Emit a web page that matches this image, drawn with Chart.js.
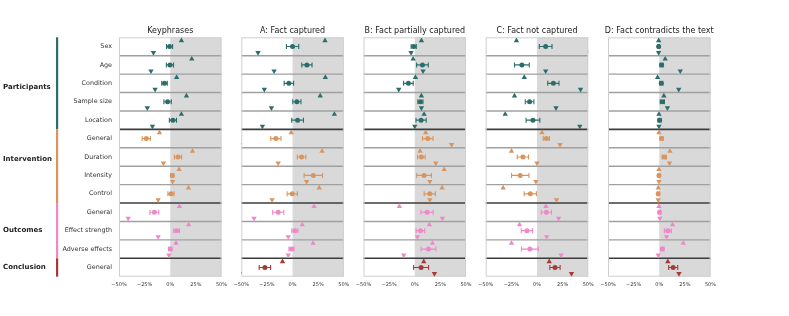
<!DOCTYPE html>
<html><head><meta charset="utf-8">
<script src="https://cdn.jsdelivr.net/npm/chart.js@4/dist/chart.umd.min.js"></script>
<style>
html,body{margin:0;padding:0;background:#fff;}
#wrap{position:relative;width:789px;height:316px;overflow:hidden;}
#wrap canvas{position:absolute;left:0;top:0;}
</style></head><body><div id="wrap"></div>
<script>
// ---- categories ----
const rowLabels = ['Sex','Age','Condition','Sample size','Location','General','Duration','Intensity','Control','General','Effect strength','Adverse effects','General'];
const rowGroup = [0,0,0,0,0,1,1,1,1,2,2,2,3];
const groupNames = ['Participants','Intervention','Outcomes','Conclusion'];
const panelTitles = ['Keyphrases','A: Fact captured','B: Fact partially captured','C: Fact not captured','D: Fact contradicts the text'];
const xTicks = [-50,-25,0,25,50];

// ---- Keyphrases ----
const kpMean = [-0.7,-0.3,-5.6,-2.6,2.6,-23.4,7.6,2,0.7,-15.5,6.2,0,null];
const kpErr  = [3,3.5,2.7,3.6,3.5,4,3.5,1.5,3,4.3,2.8,1.5,null];
const kpUp   = [10.9,21,6.2,15.8,10.9,-10.5,21.7,8.6,17.8,8.9,18,5.6,null];
const kpDown = [-16.4,-18.8,-14.8,-22.4,-17.4,null,-6.6,2.3,-11.8,-41,-11.8,-1.3,null];
// ---- A: Fact captured ----
const aMean = [0,14,-3.6,4.2,4.9,-16.3,8.8,20.3,-0.3,-14,2.3,-1,-27];
const aErr  = [6,5,4.6,4,5.7,5,4.2,9,5,5.4,3,2.5,5.6];
const aUp   = [31.7,null,32,27,40.8,-1.3,28.8,null,26,21,9.5,20,-9.8];
const aDown = [-33.7,-18,-27.5,-20.6,-29.4,-52,-14,13.7,-20,-37.6,-4.2,-4.2,-52];
// ---- B: Fact partially captured ----
const bMean = [-1,7.5,-6.2,5.5,6.2,12.7,6.5,9.1,14.7,12,5.5,13.4,6.2];
const bErr  = [2.5,5.7,4.7,2.5,5,5.2,3.7,7.2,5.5,6,4.2,7.2,7.3];
const bUp   = [6.5,-1.6,0.7,6.5,9.1,10.7,5.2,28.7,26.7,-15,14.3,17.3,8.8];
const bDown = [-3.6,8.1,-15.6,6.5,0,36,20.5,14.7,14.7,27,2.6,-10.7,19.2];
// ---- C: Fact not captured ----
const cMean = [8.5,-14.7,16,-7.2,-3.9,9.2,-13.7,-16.3,-6.5,9.2,-9.8,-6.9,17.6];
const cErr  = [6.2,7.2,5.5,4.2,6.7,3,5.5,8.5,6,5,5.5,8.2,5];
const cUp   = [-20,null,-12.4,-21.9,-31,4.9,-24.8,null,-33,8.8,-17,-24.8,12];
const cDown = [52,8.5,42.5,18.6,41.8,22.5,0,-1,19,21.2,9.5,23.5,33.7];
// ---- D: Fact contradicts the text ----
const dMean = [-0.6,2.3,2,3,0.3,2.3,4.9,-0.3,-1,0.3,8.4,3,13.6];
const dErr  = [0.8,1.5,1.5,2,1.5,1.5,2,1,1,1,3.4,1.5,4.4];
const dUp   = [-0.6,5.8,-1.6,4.5,-0.3,-0.3,10.4,-0.3,-1,-0.3,13,23.4,8.4];
const dDown = [-0.6,20.5,19,8,-0.3,null,10,-0.3,-1,0.6,7.1,-1,19.2];

// ---- styling / layout (not data) ----
const groupColors = ['#2b6e6b','#d9955f','#ef88c8','#a83a36'];
const groupLabelRow = [2.7, 6.6, 10.5, 12.5];
const PANEL_LEFT = [119, 241.3, 363.5, 485.7, 608];
const PANEL_W = 102.5;
const TOP = 37.3, BOTTOM = 276.7, W = 789, H = 316, XAXIS_H = 18;
const FONT = '"DejaVu Sans", sans-serif';

const panels = [
  {mean: kpMean, err: kpErr, up: kpUp, down: kpDown},
  {mean: aMean, err: aErr, up: aUp, down: aDown},
  {mean: bMean, err: bErr, up: bUp, down: bDown},
  {mean: cMean, err: cErr, up: cUp, down: cDown},
  {mean: dMean, err: dErr, up: dUp, down: dDown}
];

const rowColors = rowGroup.map(g => groupColors[g]);

const decor = {
  id: 'decor',
  beforeDatasetsDraw(chart, args, opts) {
    const {ctx, chartArea: a, scales: {x, y}} = chart;
    ctx.save();
    const x0 = x.getPixelForValue(0);
    ctx.fillStyle = '#d9d9d9';
    ctx.fillRect(x0, a.top, a.right - x0, a.bottom - a.top);
    for (let i = 1; i < rowLabels.length; i++) {
      const yy = y.getPixelForValue(i);
      const dark = rowGroup[i] !== rowGroup[i - 1];
      ctx.strokeStyle = dark ? '#3c3c3c' : '#a0a0a0';
      ctx.lineWidth = dark ? 1.6 : 1.4;
      ctx.beginPath(); ctx.moveTo(a.left, yy); ctx.lineTo(a.right, yy); ctx.stroke();
    }
    ctx.strokeStyle = '#cfcfcf'; ctx.lineWidth = 1;
    ctx.strokeRect(a.left + 0.5, a.top + 0.5, a.right - a.left - 1, a.bottom - a.top - 1);
    ctx.fillStyle = '#222';
    ctx.font = '8px ' + FONT;
    ctx.textAlign = 'center'; ctx.textBaseline = 'middle';
    ctx.fillText(opts.title, (a.left + a.right) / 2, a.top - 6.3);
    ctx.restore();
  }
};

const leftLabels = {
  id: 'leftLabels',
  afterDraw(chart) {
    const {ctx, scales: {y}} = chart;
    ctx.save();
    ctx.textBaseline = 'middle';
    ctx.textAlign = 'right';
    ctx.fillStyle = '#333';
    ctx.font = '6.4px ' + FONT;
    rowLabels.forEach((lab, i) => ctx.fillText(lab, 112, y.getPixelForValue(i + 0.5)));
    let start = 0;
    for (let i = 1; i <= rowGroup.length; i++) {
      if (i === rowGroup.length || rowGroup[i] !== rowGroup[start]) {
        const g = rowGroup[start];
        const y1 = y.getPixelForValue(start), y2 = y.getPixelForValue(i);
        ctx.fillStyle = groupColors[g];
        ctx.fillRect(56, y1, 2.2, y2 - y1);
        start = i;
      }
    }
    ctx.textAlign = 'left';
    ctx.fillStyle = '#222';
    ctx.font = 'bold 7px ' + FONT;
    groupNames.forEach((n, g) => ctx.fillText(n, 3, y.getPixelForValue(groupLabelRow[g])));
    ctx.restore();
  }
};

const wrap = document.getElementById('wrap');
panels.forEach((p, k) => {
  const cv = document.createElement('canvas');
  cv.width = W; cv.height = H;
  cv.style.width = W + 'px'; cv.style.height = H + 'px';
  wrap.appendChild(cv);

  const errData = [], errColors = [];
  p.mean.forEach((m, i) => {
    const yy = i + 0.5;
    if (m === null || p.err[i] === null) return;
    errData.push({x: m - p.err[i], y: yy}, {x: m + p.err[i], y: yy}, {x: null, y: null});
    errColors.push(rowColors[i], rowColors[i], rowColors[i]);
  });
  const meanData = p.mean.map((v, i) => ({x: v, y: i + 0.5}));
  const upData = p.up.map((v, i) => ({x: v, y: i + 0.18}));
  const downData = p.down.map((v, i) => ({x: v, y: i + 0.83}));

  new Chart(cv, {
    type: 'scatter',
    data: {
      datasets: [
        {data: errData, showLine: true, spanGaps: false, borderWidth: 1.1,
         segment: {borderColor: c => errColors[c.p0DataIndex]},
         pointStyle: 'line', rotation: 90, pointRadius: 2.5, pointBorderWidth: 1.1,
         pointBorderColor: errColors, pointBackgroundColor: errColors, clip: 0},
        {data: meanData, pointStyle: 'circle', pointRadius: 2.5, pointBorderWidth: 0,
         pointBackgroundColor: rowColors, pointBorderColor: rowColors, clip: 0},
        {data: upData, pointStyle: 'triangle', pointRadius: 3.1, pointBorderWidth: 0,
         pointBackgroundColor: rowColors, pointBorderColor: rowColors, clip: 0},
        {data: downData, pointStyle: 'triangle', rotation: 180, pointRadius: 3.1, pointBorderWidth: 0,
         pointBackgroundColor: rowColors, pointBorderColor: rowColors, clip: 0}
      ]
    },
    options: {
      responsive: false, animation: false, events: [],
      layout: {padding: {left: PANEL_LEFT[k], right: W - PANEL_LEFT[k] - PANEL_W, top: TOP, bottom: H - BOTTOM - XAXIS_H}},
      plugins: {legend: {display: false}, tooltip: {enabled: false}, title: {display: false},
                decor: {title: panelTitles[k]}},
      scales: {
        x: {type: 'linear', min: -50, max: 50,
            afterBuildTicks: s => { s.ticks = xTicks.map(v => ({value: v})); },
            afterFit: s => { s.height = XAXIS_H; },
            grid: {display: false, drawTicks: false}, border: {display: false},
            ticks: {autoSkip: false, maxRotation: 0, padding: 5.5, color: '#333',
                    font: {size: 5, family: FONT},
                    callback: v => (v < 0 ? '\u2212' + Math.abs(v) : v) + '%'}},
        y: {type: 'linear', min: 0, max: rowLabels.length, reverse: true, display: false}
      }
    },
    plugins: k === 0 ? [decor, leftLabels] : [decor]
  });
});
</script></body></html>
